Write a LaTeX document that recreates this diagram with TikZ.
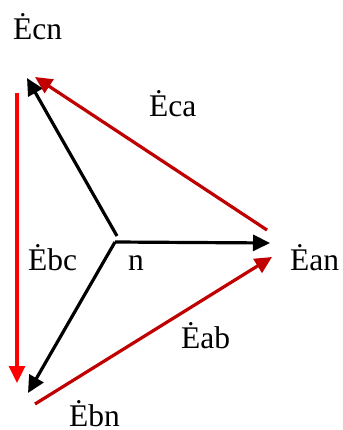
\documentclass[tikz,border=0pt]{standalone}
\usepackage{fontspec}
\setmainfont{Liberation Serif}
\usepackage{tikz}
\usetikzlibrary{arrows.meta}
\definecolor{darkred}{RGB}{192,0,0}
\definecolor{brightred}{RGB}{255,0,0}
\tikzset{
  phasor/.style={
    line width=3.2pt,
    -{Triangle[length=17pt,width=16pt]}
  },
  lbl/.style={anchor=base west, inner sep=0pt, font=\fontsize{31.5}{31.5}\selectfont}
}

\begin{document}
\begin{tikzpicture}[x=1pt,y=-1pt]
    \useasboundingbox (0,0) rectangle (342,430);
  % Phase voltages from the neutral point
  \coordinate (n) at (115,242);
  \coordinate (nc) at (117,236);
  \coordinate (an) at (270,243);
  \coordinate (bn) at (28,393);
  \coordinate (cn) at (27,78);
  \draw[phasor] (n) -- (an);
  \draw[phasor] (n) -- (bn);
  \draw[phasor] (nc) -- (cn);

  % Line voltages
  \coordinate (ca0) at (267,230);
  \coordinate (ca1) at (35,77);
  \coordinate (ab0) at (35,404);
  \coordinate (ab1) at (272,257);
  \coordinate (bc0) at (17,93);
  \coordinate (bc1) at (17,383);
  \draw[phasor, darkred] (ca0) -- (ca1);
  \draw[phasor, darkred] (ab0) -- (ab1);
  \draw[phasor, brightred] (bc0) -- (bc1);

  % Labels
  \node[lbl] (Lcn) at (13,40) {Ėcn};
  \node[lbl] (Lca) at (149,117) {Ėca};
  \node[lbl] (Lbc) at (28,270) {Ėbc};
  \node[lbl] (Ln) at (128,270) {n};
  \node[lbl] (Lan) at (290,270) {Ėan};
  \node[lbl] (Lab) at (181,348) {Ėab};
  \node[lbl] (Lbn) at (69,426) {Ėbn};

\end{tikzpicture}
\end{document}
